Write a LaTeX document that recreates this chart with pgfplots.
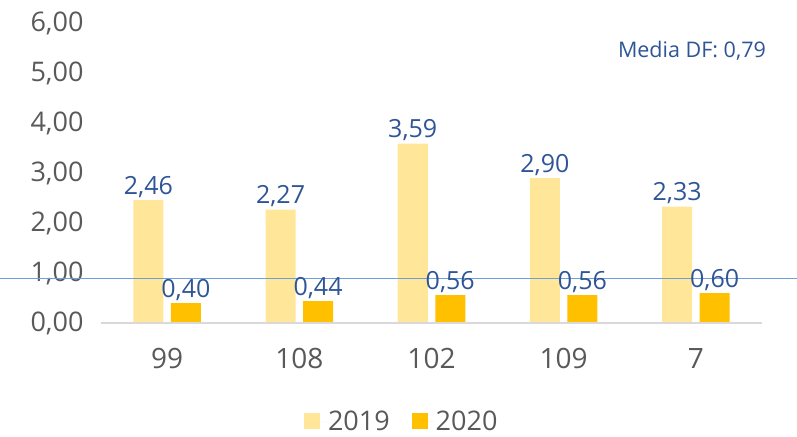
\documentclass[border=0pt]{standalone}
\usepackage{pgfplots}
\pgfplotsset{compat=1.18}
\usepackage{fontspec}
\setmainfont{Open Sans}
\definecolor{c2019}{HTML}{FFE699}
\definecolor{c2020}{HTML}{FFC000}
\definecolor{lblblue}{HTML}{2F5597}
\definecolor{tickgray}{HTML}{595959}
\definecolor{linegray}{HTML}{D9D9D9}
\definecolor{avgblue}{HTML}{6F9FD8}
\begin{document}
\begin{tikzpicture}
\begin{axis}[
  name=ax,
  at={(0,0)}, anchor=south west,
  scale only axis,
  width=661bp, height=300bp,
  xmin=-0.5, xmax=4.5,
  ymin=0, ymax=6,
  ytick={0,1,2,3,4,5,6},
  xtick={0,1,2,3,4},
  xticklabels={99,108,102,109,7},
  axis line style={draw=none},
  major tick length=0pt,
  tick style={draw=none},
  ybar=7.5bp,
  bar width=30bp,
  clip=false,
  /pgf/number format/.cd, fixed, fixed zerofill, precision=2, use comma, assume math mode=true,
  /pgfplots/.cd,
  yticklabel style={font=\fontsize{27bp}{30bp}\selectfont, text=tickgray, xshift=-14bp},
  xticklabel style={font=\fontsize{28bp}{30bp}\selectfont, text=tickgray, yshift=-22bp},
  nodes near coords,
  every node near coord/.append style={font=\fontsize{25bp}{28bp}\selectfont, text=lblblue, yshift=-1bp, /pgf/number format/.cd, fixed, fixed zerofill, precision=2, use comma, assume math mode=true},
  legend style={at={(rel axis cs:0.455,-0.327)}, anchor=center, draw=none, legend columns=2,
    font=\fontsize{27bp}{30bp}\selectfont, text=tickgray,
    /tikz/every even column/.append style={column sep=20bp}},
  legend image code/.code={\fill[#1] (0bp,-8bp) rectangle (16bp,8bp); \path (0bp,0bp) -- (22bp,0bp);},
]
\addplot[fill=c2019, draw=none] coordinates {(0,2.46) (1,2.27) (2,3.59) (3,2.90) (4,2.33)};
\addplot[fill=c2020, draw=none] coordinates {(0,0.40) (1,0.44) (2,0.56) (3,0.56) (4,0.60)};
\legend{2019,2020}
\draw[linegray, line width=1.5bp] (axis cs:-0.5,0) -- (axis cs:4.5,0);
\draw[avgblue, line width=1.3bp] (axis cs:-1.27,0.89) -- (axis cs:4.77,0.89);
\node[font=\fontsize{21.5bp}{24bp}\selectfont, text=lblblue] at (axis cs:3.97,5.44) {Media DF: 0,79};
\end{axis}
\pgfresetboundingbox
\useasboundingbox (-101bp,-114bp) rectangle (696bp,323bp);
\end{tikzpicture}
\end{document}
